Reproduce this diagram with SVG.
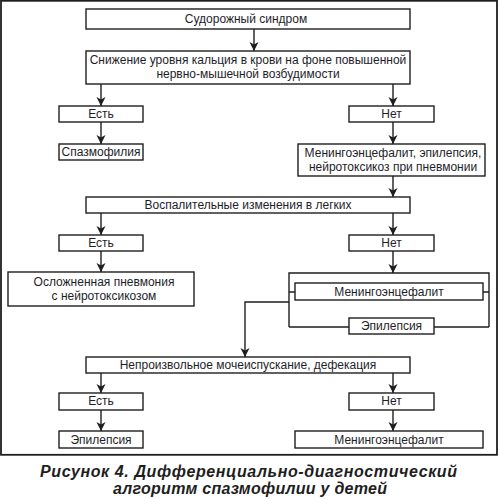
<svg xmlns="http://www.w3.org/2000/svg" width="499" height="499" viewBox="0 0 499 499">
<defs>
<marker id="ah" markerWidth="10" markerHeight="10" refX="9" refY="5" orient="auto" markerUnits="userSpaceOnUse">
<path d="M0,0.5 L9,5 L0,9.5 L2.5,5 z" fill="#1e1e1e"/>
</marker>
<style>
.b{fill:#fff;stroke:#1e1e1e;stroke-width:1.4}
.t{font-family:"Liberation Sans",Arial,sans-serif;font-size:12px;fill:#1e1e2a;text-anchor:middle}
.c{fill:none;stroke:#1e1e1e;stroke-width:1.4}
.a{marker-end:url(#ah)}
.cap{font-family:"Liberation Sans",Arial,sans-serif;font-size:16px;font-weight:bold;font-style:italic;fill:#1e1e1e;text-anchor:middle}
</style>
</defs>
<rect x="1" y="0.8" width="496" height="454" fill="#fff" stroke="#1e1e1e" stroke-width="1.8"/>
<g id="connectors">
<line class="c a" x1="254" y1="29" x2="254" y2="51"/>
<line class="c a" x1="101" y1="84" x2="101" y2="106"/>
<line class="c a" x1="393" y1="84" x2="393" y2="106"/>
<line class="c a" x1="101" y1="122" x2="101" y2="144"/>
<line class="c a" x1="393" y1="122" x2="393" y2="144"/>
<line class="c a" x1="393" y1="176" x2="393" y2="197"/>
<line class="c a" x1="101" y1="213" x2="101" y2="235"/>
<line class="c a" x1="393" y1="213" x2="393" y2="235"/>
<line class="c a" x1="101" y1="251" x2="101" y2="272"/>
<line class="c a" x1="393" y1="251" x2="393" y2="273"/>
<path class="c" d="M289,327 L289,273 L489,273 L489,327 M289,327 L349,327 M434,327 L489,327 M289,292 L295,292 M483,292 L489,292"/>
<path class="c a" d="M289,302 L245,302 L245,357"/>
<line class="c a" x1="101" y1="373" x2="101" y2="393"/>
<line class="c a" x1="393" y1="373" x2="393" y2="393"/>
<line class="c a" x1="101" y1="410" x2="101" y2="431"/>
<line class="c a" x1="393" y1="410" x2="393" y2="431"/>
</g>
<g id="n1"><rect class="b" x="86" y="9" width="324" height="20"/><text class="t" x="246" y="23">Судорожный синдром</text></g>
<g id="n2"><rect class="b" x="86" y="51" width="324" height="33"/><text class="t" x="248" y="64">Снижение уровня кальция в крови на фоне повышенной</text><text class="t" x="248" y="78">нервно-мышечной возбудимости</text></g>
<g id="n3"><rect class="b" x="59" y="106" width="84" height="16"/><text class="t" x="101" y="118">Есть</text></g>
<g id="n4"><rect class="b" x="349" y="106" width="85" height="16"/><text class="t" x="391.5" y="118">Нет</text></g>
<g id="n5"><rect class="b" x="59" y="144" width="84" height="16"/><text class="t" x="101" y="156">Спазмофилия</text></g>
<g id="n6"><rect class="b" x="298" y="144" width="187" height="32"/><text class="t" x="393" y="157">Менингоэнцефалит, эпилепсия,</text><text class="t" x="393" y="171">нейротоксикоз при пневмонии</text></g>
<g id="n7"><rect class="b" x="86" y="197" width="324" height="16"/><text class="t" x="248" y="209">Воспалительные изменения в легких</text></g>
<g id="n8"><rect class="b" x="59" y="235" width="84" height="16"/><text class="t" x="101" y="247">Есть</text></g>
<g id="n9"><rect class="b" x="349" y="235" width="85" height="16"/><text class="t" x="391.5" y="247">Нет</text></g>
<g id="n10"><rect class="b" x="8" y="272" width="186" height="34"/><text class="t" x="104" y="286">Осложненная пневмония</text><text class="t" x="104" y="300">с нейротоксикозом</text></g>
<g id="n11"><rect class="b" x="295" y="283" width="188" height="17"/><text class="t" x="389" y="296">Менингоэнцефалит</text></g>
<g id="n12"><rect class="b" x="349" y="318" width="85" height="16"/><text class="t" x="391.5" y="330">Эпилепсия</text></g>
<g id="n13"><rect class="b" x="86" y="357" width="324" height="16"/><text class="t" x="248" y="369">Непроизвольное мочеиспускание, дефекация</text></g>
<g id="n14"><rect class="b" x="59" y="393" width="84" height="17"/><text class="t" x="101" y="405">Есть</text></g>
<g id="n15"><rect class="b" x="349" y="393" width="85" height="17"/><text class="t" x="391.5" y="405">Нет</text></g>
<g id="n16"><rect class="b" x="59" y="431" width="84" height="17"/><text class="t" x="101" y="444">Эпилепсия</text></g>
<g id="n17"><rect class="b" x="295" y="431" width="188" height="17"/><text class="t" x="389" y="444">Менингоэнцефалит</text></g>
<g id="caption">
<text class="cap" x="248.5" y="477" textLength="417" lengthAdjust="spacing">Рисунок 4. Дифференциально-диагностический</text>
<text class="cap" x="250" y="494" textLength="274" lengthAdjust="spacing">алгоритм спазмофилии у детей</text>
</g>
</svg>
